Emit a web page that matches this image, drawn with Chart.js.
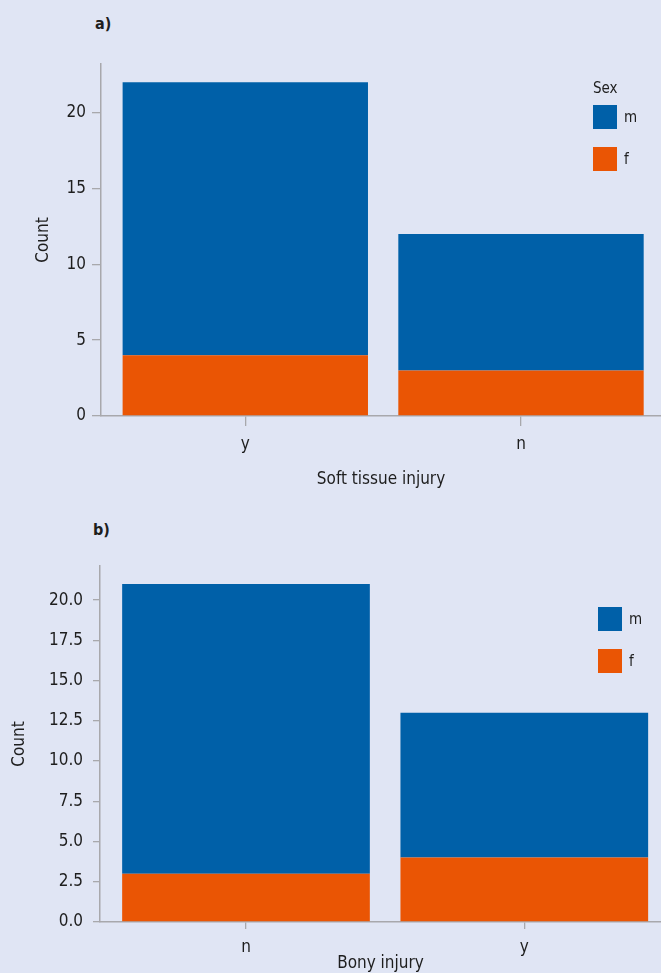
<!DOCTYPE html>
<html>
<head>
<meta charset="utf-8">
<script src="https://cdn.jsdelivr.net/npm/chart.js@4.4.1/dist/chart.umd.min.js"></script>
<style>
  html, body { margin: 0; padding: 0; background: #e0e5f4; overflow: hidden; }
  body { width: 661px; height: 973px; position: relative;
         font-family: 'Liberation Sans Narrow', 'DejaVu Sans Condensed', sans-serif; color: #1e1e1e; }
  canvas { position: absolute; left: 0; }
  .tag { position: absolute; font-weight: bold; font-size: 16px; line-height: 16px; }
  .lg { position: absolute; font-size: 15px; line-height: 24px; height: 24px; white-space: nowrap; }
  .sw { position: absolute; width: 24px; height: 24px; }
</style>
</head>
<body>
<div class="tag" style="left:95px; top:16px;">a)</div>
<div class="tag" style="left:93px; top:522px;">b)</div>
<canvas id="softChart" width="661" height="494" style="top:0;"></canvas>
<canvas id="bonyChart" width="661" height="500" style="top:494px;"></canvas>
<div id="softLegend"></div>
<div id="bonyLegend"></div>
<script>
const sexLabels = ['m', 'f'];

const softCategories = ['y', 'n'];
const softMale = [18, 9];
const softFemale = [4, 3];
const softTicks = [0, 5, 10, 15, 20];

const bonyCategories = ['n', 'y'];
const bonyMale = [18, 9];
const bonyFemale = [3, 4];
const bonyTicks = [0, 2.5, 5, 7.5, 10, 12.5, 15, 17.5, 20];

const BLUE = '#0060a8';
const ORANGE = '#ea5504';
const AXIS = '#a8a8ac';
const TEXT = '#1e1e1e';
const FONT = "'Liberation Sans Narrow', 'DejaVu Sans Condensed', sans-serif";

function makePanel(id, cats, male, female, yTicks, g) {
    const ctx = document.getElementById(id).getContext('2d');
    return new Chart(ctx, {
        type: 'bar',
        data: {
            // f first so it sits at the bottom of the stack
            datasets: [
                {
                    label: sexLabels[1],
                    data: female.map((v, i) => ({ x: i + 1, y: v })),
                    backgroundColor: ORANGE,
                    borderWidth: 0,
                    barPercentage: 0.89,
                    categoryPercentage: 1
                },
                {
                    label: sexLabels[0],
                    data: male.map((v, i) => ({ x: i + 1, y: v })),
                    backgroundColor: BLUE,
                    borderWidth: 0,
                    barPercentage: 0.89,
                    categoryPercentage: 1
                }
            ]
        },
        options: {
            responsive: false,
            animation: false,
            layout: { padding: { top: g.top, left: 0, right: 0, bottom: 0 } },
            plugins: {
                legend: { display: false },
                tooltip: { enabled: false }
            },
            scales: {
                x: {
                    type: 'linear',
                    stacked: true,
                    offset: false,
                    min: g.xMin,
                    max: g.xMax,
                    afterBuildTicks: s => { s.ticks = cats.map((c, i) => ({ value: i + 1 })); },
                    grid: { offset: false, drawOnChartArea: false, drawTicks: true, tickLength: g.xTick, color: AXIS, lineWidth: 1.3 },
                    border: { display: true, color: AXIS, width: 1.5 },
                    ticks: {
                        padding: g.xPad,
                        color: TEXT,
                        font: { family: FONT, size: 17, lineHeight: g.xLh },
                        callback: v => cats[v - 1]
                    },
                    title: {
                        display: true,
                        text: g.xTitle,
                        color: TEXT,
                        font: { family: FONT, size: 17, lineHeight: g.xLh },
                        padding: { top: g.xTitleTop, bottom: g.xTitleBottom }
                    }
                },
                y: {
                    stacked: true,
                    min: 0,
                    max: g.yMax,
                    afterBuildTicks: s => { s.ticks = yTicks.map(v => ({ value: v })); },
                    afterFit: s => { s.width = g.axisX; },
                    grid: { drawOnChartArea: false, drawTicks: true, tickLength: g.yTick, color: AXIS, lineWidth: 1.3 },
                    border: { display: true, color: AXIS, width: 1.5 },
                    ticks: {
                        padding: g.yPad,
                        color: TEXT,
                        font: { family: FONT, size: 17 },
                        callback: v => v.toFixed(g.dec)
                    },
                    title: {
                        display: true,
                        text: 'Count',
                        color: TEXT,
                        font: { family: FONT, size: 17, lineHeight: 1.2 },
                        padding: { top: g.yTitlePad, bottom: 0 }
                    }
                }
            }
        }
    });
}

function buildLegend(id, chart, x, top, title) {
    const box = document.getElementById(id);
    let html = '';
    if (title) {
        html += `<div class="lg" style="left:${x}px; top:${top - 29}px;">${title}</div>`;
    }
    // legend lists m above f, the reverse of the stacking order
    chart.data.datasets.slice().reverse().forEach((ds, i) => {
        const y = top + i * 42;
        html += `<div class="sw" style="left:${x}px; top:${y}px; background:${ds.backgroundColor};"></div>`;
        html += `<div class="lg" style="left:${x + 31}px; top:${y}px;">${ds.label}</div>`;
    });
    box.innerHTML = html;
}

const softChart = makePanel('softChart', softCategories, softMale, softFemale, softTicks, {
    top: 64, xMin: 0.4766, xMax: 2.5078, yMax: 23.2, axisX: 101,
    xTick: 10, xPad: 8, xLh: 1.2, xTitle: 'Soft tissue injury', xTitleTop: 7.4, xTitleBottom: 3.8,
    yTick: 9, yPad: 6, dec: 0, yTitlePad: 33.8
});

const bonyChart = makePanel('bonyChart', bonyCategories, bonyMale, bonyFemale, bonyTicks, {
    top: 72, xMin: 0.4754, xMax: 2.4912, yMax: 22.12, axisX: 100,
    xTick: 7, xPad: 10, xLh: 1.0, xTitle: 'Bony injury', xTitleTop: -10.5, xTitleBottom: 21.5,
    yTick: 7, yPad: 10, dec: 1, yTitlePad: 9.3
});

buildLegend('softLegend', softChart, 593, 105, 'Sex');
buildLegend('bonyLegend', bonyChart, 598, 607, '');
</script>
</body>
</html>
